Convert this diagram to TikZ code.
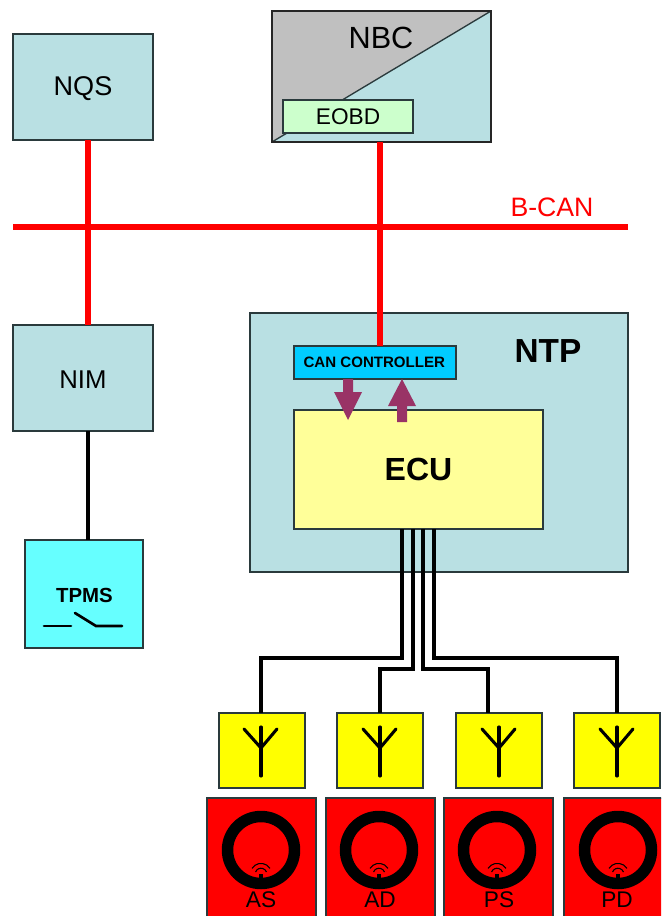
\documentclass[tikz,border=0pt]{standalone}
\usepackage{fontspec}
\setmainfont{Liberation Sans}
\definecolor{tealbox}{HTML}{B9E0E3}
\definecolor{graybox}{HTML}{C0C0C0}
\definecolor{greenbox}{HTML}{CCFFCC}
\definecolor{cyanbox}{HTML}{66FFFF}
\definecolor{canblue}{HTML}{00CCFF}
\definecolor{ecuyellow}{HTML}{FFFF99}
\definecolor{plum}{HTML}{993366}
\definecolor{edgegray}{HTML}{2A3A3C}
\definecolor{pureyellow}{HTML}{FFFF00}
\definecolor{purered}{HTML}{FF0000}
\newcommand{\fs}[1]{\fontsize{#1}{#1}\selectfont}
\tikzset{
  x=0.75pt,y=-0.75pt,
  sz/.style 2 args={minimum width=#1*0.75pt,minimum height=#2*0.75pt,inner sep=0pt,outer sep=0pt},
  tealnode/.style={draw=edgegray,line width=0.9pt,fill=tealbox,anchor=north west},
  bus/.style={draw=purered,line width=5pt},
  wire/.style={draw=black,line width=3.3pt,line join=miter},
  arrowshape/.style={fill=plum,draw=none},
  antbox/.style={draw=edgegray,line width=1.1pt,fill=pureyellow,anchor=north west,sz={86}{75}},
  ringbox/.style={draw=edgegray,line width=1.1pt,fill=purered,anchor=north west,sz={109}{122}},
  antline/.style={draw=black,line width=2.3pt,line cap=round,line join=round},
}
\newcommand{\wheel}[6]{%
  % #1 x antenna box, #2 x red box, #3 antenna centre, #4 label, #5 name, #6 ring centre
  \node[antbox] (ant#5) at (#1,713) {};
  \node[ringbox] (wheel#5) at (#2,798) {};
  \draw[antline] (#3,727) -- (#3,776);
  \draw[antline] (#3-17,729) -- (#3,748) -- (#3+16,729);
  \draw[black,line width=8.6pt] (#6,850) circle[radius=33.5];
  \fill[black] (#6-2,874) rectangle (#6+2,882);
  \draw[black,line width=0.8pt] (#6,874) ++(-160:5.8) arc[start angle=-160,end angle=-20,radius=5.8];
  \draw[black,line width=0.8pt] (#6,874) ++(-148:10.6) arc[start angle=-148,end angle=-32,radius=10.6];
  \node[font=\fs{17}] (lab#5) at (#3,900) {#4};
}
\begin{document}
\begin{tikzpicture}
\useasboundingbox (0,0) rectangle (661,916);
\clip (0,0) rectangle (661,916);
% boxes
\node[tealnode,sz={140}{106},font=\fs{20.3}] (nqs) at (13,34) {\raisebox{-1.2pt}[\height][\depth]{NQS}};
\node[tealnode,sz={140}{106},font=\fs{19.3}] (nim) at (13,325) {\raisebox{-1pt}[\height][\depth]{NIM}};
\node[tealnode,sz={118}{108},fill=cyanbox] (tpms) at (25,540) {};
\node[font=\bfseries\fs{15.3}] (tpmslabel) at (84.5,595) {TPMS};
\draw[black,line width=2pt,line cap=round] (44,626) -- (71,626);
\draw[black,line width=2pt,line cap=round] (75,613) -- (96,626) -- (122,626);
% NBC
\node[tealnode,sz={219}{131}] (nbc) at (272,11) {};
\fill[graybox] (nbc.north west) -- (nbc.north east) -- (nbc.south west) -- cycle;
\draw[edgegray,line width=1pt] (nbc.north east) -- (nbc.south west);
\draw[black!85,line width=2pt] (nbc.north west) rectangle (nbc.south east);
\node[font=\fs{23}] (nbclabel) at (381,38) {NBC};
\node[tealnode,sz={130}{33},fill=greenbox,font=\fs{17}] (eobd) at (283,100) {EOBD};
% bus
\coordinate (busl) at (13,227);
\coordinate (busr) at (628,227);
\coordinate (nqsb) at (88,140);
\coordinate (nimt) at (88,325);
\coordinate (nimb) at (88,431);
\coordinate (tpmst) at (88,540);
\coordinate (nbcb) at (380,142);
\coordinate (cant) at (380,346);
\node[purered,font=\fs{20}] (bcan) at (552,207) {B-CAN};
% NTP
\node[tealnode,sz={378}{259}] (ntp) at (250,313) {};
\node[font=\bfseries\fs{25}] (ntplabel) at (548,351) {NTP};
\node[tealnode,sz={162}{33},fill=canblue,font=\bfseries\fs{11.3}] (can) at (294,346) {\hspace*{-1pt}CAN CONTROLLER};
\node[tealnode,sz={249}{119},fill=ecuyellow,font=\bfseries\fs{24}] (ecu) at (294,410) {ECU};
% connectors
\draw[bus] (nqsb) -- (nimt);
\draw[bus] (busl) -- (busr);
\draw[bus] (nbcb) -- (cant);
\draw[wire] (nimb) -- (tpmst);
% arrows
\fill[arrowshape] (343,379) -- (353,379) -- (353,392) -- (362,392) -- (348,420) -- (334,392) -- (343,392) -- cycle;
\fill[arrowshape] (397,422) -- (407,422) -- (407,406) -- (416,406) -- (402,379) -- (388,406) -- (397,406) -- cycle;
% wheels
\wheel{219}{207}{261}{AS}{a}{261}
\wheel{337}{326}{380}{AD}{b}{379}
\wheel{456}{444}{499}{PS}{c}{497}
\wheel{574}{564}{617}{PD}{d}{618}
% wires
\draw[wire] (402,529) -- (402,658) -- (261,658) -- (261,713);
\draw[wire] (413,529) -- (413,669) -- (380,669) -- (380,713);
\draw[wire] (423,529) -- (423,669) -- (488,669) -- (488,713);
\draw[wire] (434,529) -- (434,658) -- (617,658) -- (617,713);
\end{tikzpicture}
\end{document}
